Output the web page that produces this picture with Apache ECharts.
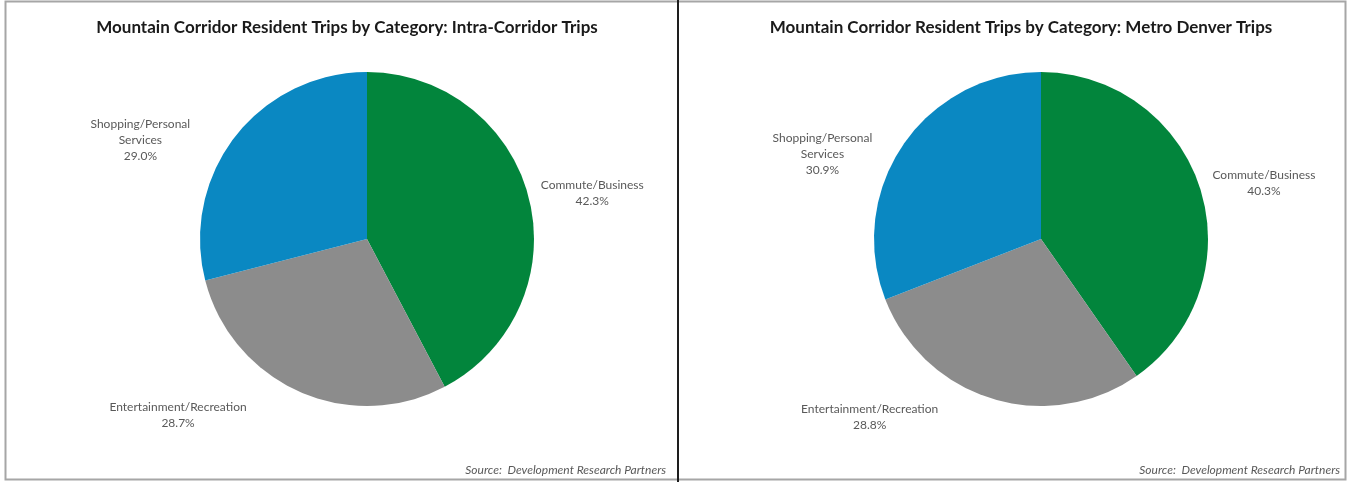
<!DOCTYPE html>
<html>
<head>
<meta charset="utf-8">
<script src="https://cdn.jsdelivr.net/npm/echarts@6/dist/echarts.min.js"></script>
<style>
html,body{margin:0;padding:0;background:#fff;}
#chart{width:1351px;height:482px;}
</style>
</head>
<body>
<div id="chart"></div>
<script>
const categories = ['Commute/Business', 'Entertainment/Recreation', 'Shopping/Personal\nServices'];
const intraCorridorValues = [42.3, 28.7, 29.0];
const metroDenverValues = [40.3, 28.8, 30.9];
const chartTitles = [
  'Mountain Corridor Resident Trips by Category: Intra-Corridor Trips',
  'Mountain Corridor Resident Trips by Category: Metro Denver Trips'
];
const sourceNote = 'Source:  Development Research Partners';

const colors = ['#02853c', '#8c8c8c', '#0a88c2'];
// label nudges (dx, dy) from ECharts' default outside position
const leftNudges = [[29, 1], [-104, -4], [-66, 22]];
const rightNudges = [[30, 3], [-109, -10], [-51, 26]];

function makeData(vals) {
  return categories.map((c, i) => ({ name: c, value: vals[i], itemStyle: { color: colors[i] } }));
}

function pieSeries(vals, center, nudges) {
  return {
    type: 'pie',
    center: center,
    radius: 167,
    startAngle: 90,
    clockwise: true,
    silent: true,
    animation: false,
    avoidLabelOverlap: false,
    data: makeData(vals),
    itemStyle: { borderWidth: 0 },
    label: {
      show: true,
      position: 'outside',
      formatter: p => p.name + '\n' + p.value.toFixed(1) + '%',
      fontFamily: 'Lato, "Liberation Sans", sans-serif',
      fontSize: 12,
      lineHeight: 16,
      color: '#595959'
    },
    labelLine: { show: false, length: 30, length2: 0 },
    labelLayout: p => ({
      align: 'center',
      verticalAlign: 'middle',
      dx: nudges[p.dataIndex][0],
      dy: nudges[p.dataIndex][1]
    })
  };
}

const chart = echarts.init(document.getElementById('chart'), null, { renderer: 'canvas' });
const titleStyle = { fontFamily: 'Lato, "Liberation Sans", sans-serif', fontWeight: 'bold', fontSize: 17, color: '#1a1a1a' };
const srcStyle = { fontFamily: 'Lato, "Liberation Sans", sans-serif', fontStyle: 'italic', fontWeight: 'normal', fontSize: 12, color: '#595959' };

chart.setOption({
  backgroundColor: '#ffffff',
  animation: false,
  title: [
    { text: chartTitles[0], left: 342, top: 14, textAlign: 'center', textStyle: titleStyle },
    { text: chartTitles[1], left: 1016, top: 14, textAlign: 'center', textStyle: titleStyle },
    { text: sourceNote, right: 680, top: 459, textStyle: srcStyle },
    { text: sourceNote, right: 6, top: 459, textStyle: srcStyle }
  ],
  graphic: [
    { type: 'rect', shape: { x: 5.5, y: 1.5, width: 1340, height: 478 }, style: { fill: 'none', stroke: '#a6a6a6', lineWidth: 2 }, silent: true },
    { type: 'line', shape: { x1: 678, y1: 0, x2: 678, y2: 482 }, style: { stroke: '#1e1e1e', lineWidth: 2 }, silent: true }
  ],
  series: [
    pieSeries(intraCorridorValues, [367, 239], leftNudges),
    pieSeries(metroDenverValues, [1041, 239], rightNudges)
  ]
});
</script>
</body>
</html>
